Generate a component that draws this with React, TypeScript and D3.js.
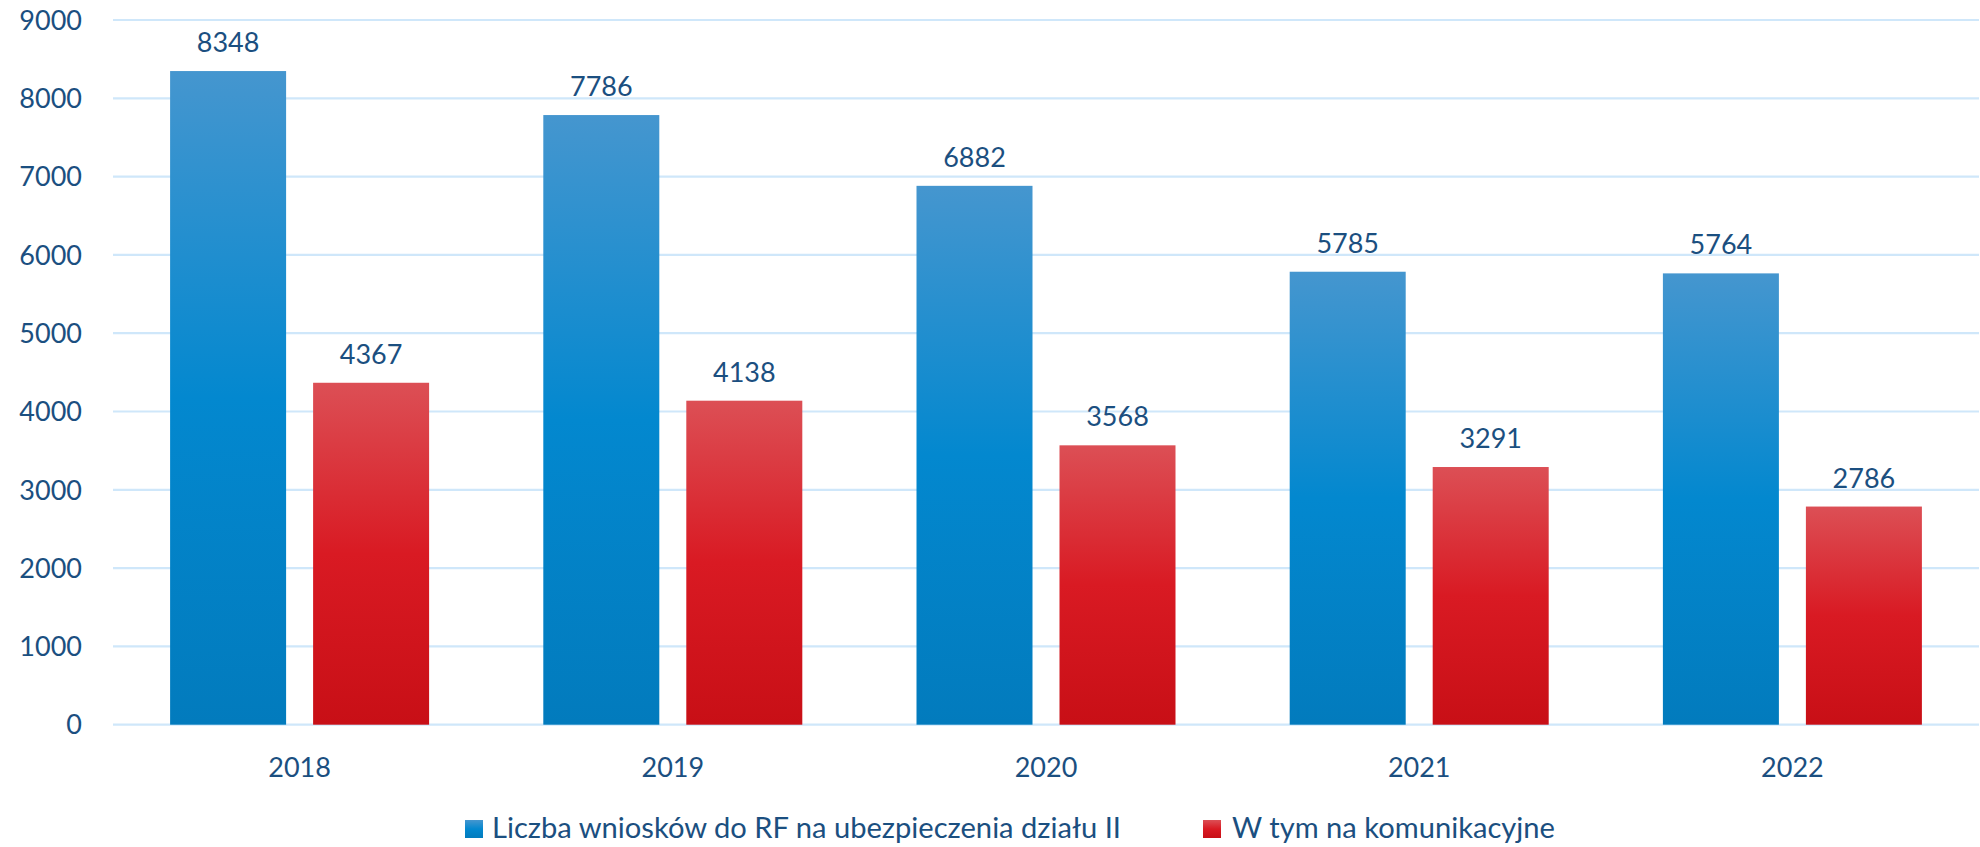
import React from "react";
import * as d3 from "d3";

const years = ["2018", "2019", "2020", "2021", "2022"];
const seriesNames = ["Liczba wniosków do RF na ubezpieczenia działu II", "W tym na komunikacyjne"];
const totalValues = [8348, 7786, 6882, 5785, 5764];
const motorValues = [4367, 4138, 3568, 3291, 2786];
const yTicks = [0, 1000, 2000, 3000, 4000, 5000, 6000, 7000, 8000, 9000];

const W = 1980;
const H = 847;
const FONT = "Lato, 'Open Sans', sans-serif";
const TEXT = "#1b4f80";

export default function App() {
  const left = 113, right = 1979, top = 20, bottom = 724.7;
  const x0 = d3.scaleBand<string>().domain(years).range([left, right]).paddingInner(0).paddingOuter(0);
  const groupW = 259;
  const y = d3.scaleLinear().domain([0, 9000]).range([bottom, top]);
  const series = [totalValues, motorValues];
  const fills = ["url(#gBlue)", "url(#gRed)"];
  const bw = 116;
  const gap = 27;

  return (
    <svg width={W} height={H} style={{ position: "absolute", left: 0, top: 0 }} fontFamily={FONT}>
      <defs>
        <linearGradient id="gBlue" x1="0" y1="0" x2="0" y2="1">
          <stop offset="0" stopColor="#4596cf" />
          <stop offset="0.5" stopColor="#0388cf" />
          <stop offset="1" stopColor="#027bbd" />
        </linearGradient>
        <linearGradient id="gRed" x1="0" y1="0" x2="0" y2="1">
          <stop offset="0" stopColor="#dc4f55" />
          <stop offset="0.5" stopColor="#d91a23" />
          <stop offset="1" stopColor="#c80f16" />
        </linearGradient>
      </defs>
      {yTicks.map((t) => (
        <g key={t}>
          <line x1={left} x2={right} y1={y(t)} y2={y(t)} stroke="#cfe7fa" strokeWidth={2.2} />
          <text x={82} y={y(t)} dy="0.36em" textAnchor="end" fontSize={27} fill={TEXT}>{t}</text>
        </g>
      ))}
      {years.map((yr, i) => {
        const cx = (x0(yr) as number) + x0.bandwidth() / 2;
        const gx = cx - groupW / 2;
        return (
          <g key={yr}>
            {series.map((vals, s) => {
              const bx = gx + s * (bw + gap);
              const v = vals[i];
              return (
                <g key={s}>
                  <rect x={bx} y={y(v)} width={bw} height={bottom - y(v)} fill={fills[s]} />
                  <text x={bx + bw / 2} y={y(v) - 19} textAnchor="middle" fontSize={27} fill={TEXT}>{v}</text>
                </g>
              );
            })}
            <text x={cx} y={777} textAnchor="middle" fontSize={27} fill={TEXT}>{yr}</text>
          </g>
        );
      })}
      <g>
        <rect x={465} y={820} width={18} height={18} fill="url(#gBlue)" />
        <text x={492} y={838} fontSize={28} fill={TEXT} textLength={629} lengthAdjust="spacingAndGlyphs">{seriesNames[0]}</text>
        <rect x={1203} y={820} width={18} height={18} fill="url(#gRed)" />
        <text x={1232} y={838} fontSize={28} fill={TEXT} textLength={323} lengthAdjust="spacingAndGlyphs">{seriesNames[1]}</text>
      </g>
    </svg>
  );
}
